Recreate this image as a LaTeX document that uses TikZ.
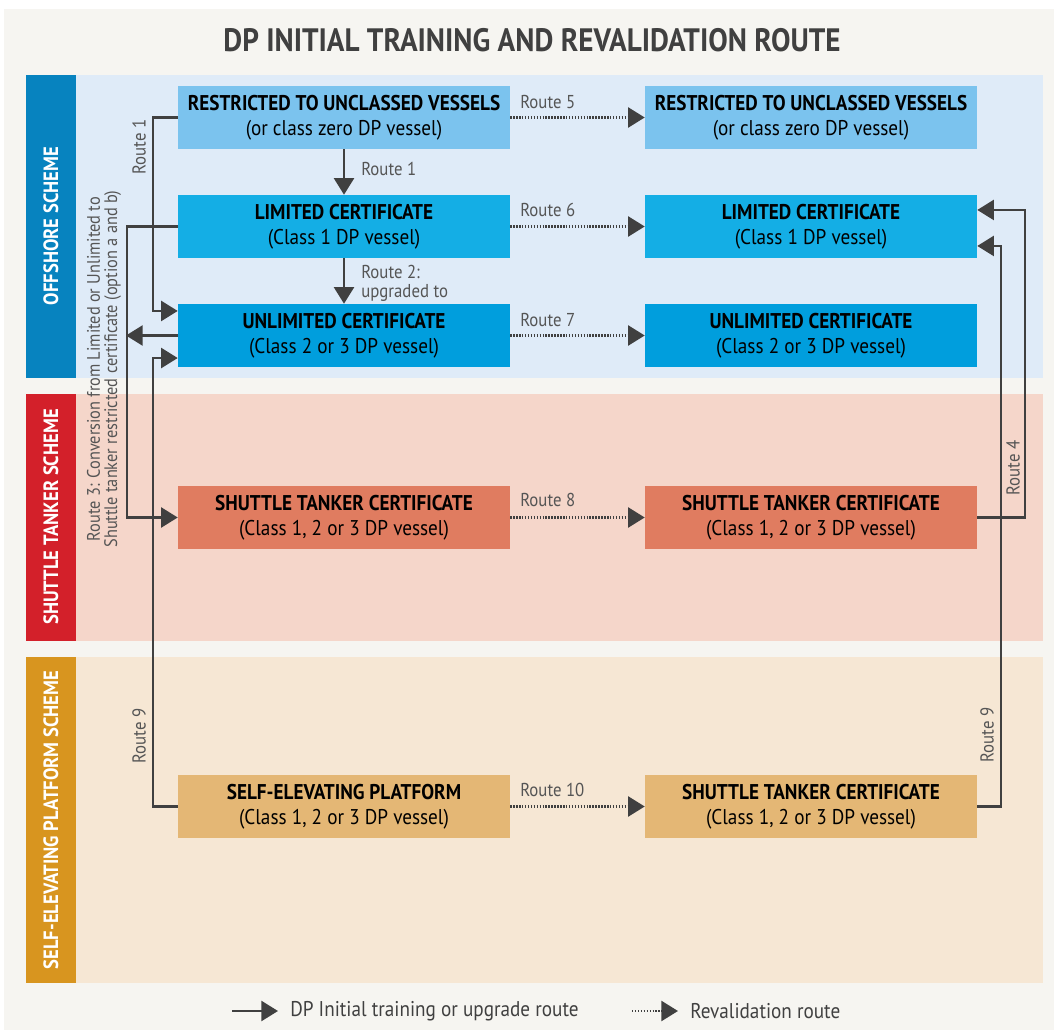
\documentclass[tikz,border=0pt]{standalone}
\usepackage{fontspec}
\setmainfont{PT Sans}[FakeStretch=0.9]
\usetikzlibrary{arrows.meta,calc}
\definecolor{bg}{HTML}{F6F5F1}
\definecolor{offband}{HTML}{DFEBF8}
\definecolor{offbar}{HTML}{0783BF}
\definecolor{stband}{HTML}{F5D6CA}
\definecolor{stbar}{HTML}{D3202A}
\definecolor{seband}{HTML}{F6E7D4}
\definecolor{sebar}{HTML}{D8951F}
\definecolor{cRes}{HTML}{7BC3EE}
\definecolor{cLim}{HTML}{14AEE5}
\definecolor{cUnl}{HTML}{009EDD}
\definecolor{cSt}{HTML}{E07C60}
\definecolor{cSe}{HTML}{E4B775}
\definecolor{ink}{HTML}{404040}
\definecolor{lbl}{HTML}{555555}
\begin{document}
\begin{tikzpicture}[x=0.75pt,y=-0.75pt,
  box/.style={minimum width=249pt,minimum height=47.25pt,inner sep=0pt,align=center,text=black,
    font=\fontsize{16}{18.75}\selectfont},
  route/.style={draw=ink,line width=1.9pt,-{Triangle[length=12.5pt,width=15pt]}},
  reval/.style={route,dash pattern=on 1.1pt off 1.1pt},
  rlabel/.style={text=lbl,inner sep=0pt,font=\fontsize{14}{14.25}\selectfont},
  barlabel/.style={text=white,rotate=90,inner sep=0pt,font=\fontsize{15.5}{17}\selectfont\bfseries},
  legend/.style={text=ink,inner sep=0pt,anchor=west,font=\fontsize{16}{18}\selectfont}]
% canvas
\fill[white] (0,0) rectangle (1054,1030);
\fill[bg] (4,9) rectangle (1054,1030);
% bands
\fill[offband] (26,75) rectangle (1043,378);
\fill[offbar] (26,75) rectangle (76,378);
\fill[stband] (26,394) rectangle (1043,641);
\fill[stbar] (26,394) rectangle (76,641);
\fill[seband] (26,657) rectangle (1043,983);
\fill[sebar] (26,657) rectangle (76,983);
\node[barlabel] (bOff) at (51,226) {OFFSHORE SCHEME};
\node[barlabel] (bSt) at (51,517) {SHUTTLE TANKER SCHEME};
\node[barlabel] (bSe) at (51,820) {SELF-ELEVATING PLATFORM SCHEME};
% title
\node[text=ink,font=\fontsize{24.3}{28}\selectfont\bfseries] (title) at (532,40) {DP INITIAL TRAINING AND REVALIDATION ROUTE};
% boxes
\node[box,fill=cRes] (res1) at (344,117.5) {\textbf{RESTRICTED TO UNCLASSED VESSELS}\\(or class zero DP vessel)};
\node[box,fill=cRes] (res2) at (811,117.5) {\textbf{RESTRICTED TO UNCLASSED VESSELS}\\(or class zero DP vessel)};
\node[box,fill=cLim] (lim1) at (344,226.5) {\textbf{LIMITED CERTIFICATE}\\(Class 1 DP vessel)};
\node[box,fill=cLim] (lim2) at (811,226.5) {\textbf{LIMITED CERTIFICATE}\\(Class 1 DP vessel)};
\node[box,fill=cUnl] (unl1) at (344,335.5) {\textbf{UNLIMITED CERTIFICATE}\\(Class 2 or 3 DP vessel)};
\node[box,fill=cUnl] (unl2) at (811,335.5) {\textbf{UNLIMITED CERTIFICATE}\\(Class 2 or 3 DP vessel)};
\node[box,fill=cSt] (st1) at (344,517.5) {\textbf{SHUTTLE TANKER CERTIFICATE}\\(Class 1, 2 or 3 DP vessel)};
\node[box,fill=cSt] (st2) at (811,517.5) {\textbf{SHUTTLE TANKER CERTIFICATE}\\(Class 1, 2 or 3 DP vessel)};
\node[box,fill=cSe] (se1) at (344,806.5) {\textbf{SELF-ELEVATING PLATFORM}\\(Class 1, 2 or 3 DP vessel)};
\node[box,fill=cSe] (se2) at (811,806.5) {\textbf{SHUTTLE TANKER CERTIFICATE}\\(Class 1, 2 or 3 DP vessel)};
% vertical routes
\draw[route] (res1.south) -- (lim1.north);
\draw[route] (lim1.south) -- (unl1.north);
\node[rlabel,anchor=west] (lr1) at (361,169) {Route 1};
\node[rlabel,anchor=west,align=left] (lr2) at (361,283) {Route 2:\\upgraded to};
% revalidation routes
\draw[reval] (res1.east) -- (res2.west);
\draw[reval] (lim1.east) -- (lim2.west);
\draw[reval] (unl1.east) -- (unl2.west);
\draw[reval] (st1.east) -- (st2.west);
\draw[reval] (se1.east) -- (se2.west);
\node[rlabel,anchor=west] (lr5) at (520,102) {Route 5};
\node[rlabel,anchor=west] (lr6) at (520,210) {Route 6};
\node[rlabel,anchor=west] (lr7) at (520,320) {Route 7};
\node[rlabel,anchor=west] (lr8) at (520,500) {Route 8};
\node[rlabel,anchor=west] (lr10) at (520,790) {Route 10};
% left side routes
\draw[route] (res1.west) -- (153,117.5) |- ([yshift=18.4pt]unl1.west);
\draw[route] (lim1.west) -- (127,226.5) |- (st1.west);
\coordinate (u3end) at (126,335.5);
\draw[route] (unl1.west) -- (u3end);
\draw[route] (se1.west) -- (153,806.5) |- ([yshift=-16.9pt]unl1.west);
\node[rlabel,rotate=90] (lr1b) at (139,147) {Route 1};
\node[rlabel,rotate=90,align=center,font=\fontsize{13.6}{13}\selectfont] (lr3) at (104,369)
  {Route 3: Conversion from Limited or Unlimited to\\Shuttle tanker restricted certificate (option a and b)};
\node[rlabel,rotate=90] (lr9a) at (139,736) {Route 9};
% right side routes
\draw[route] (st2.east) -- (1025,517.5) |- ([yshift=12.4pt]lim2.east);
\draw[route] (se2.east) -- (1001,806.5) |- ([yshift=-14.6pt]lim2.east);
\node[rlabel,rotate=90] (lr4) at (1013,468) {Route 4};
\node[rlabel,rotate=90] (lr9b) at (987,735) {Route 9};
% legend
\coordinate (lgA1) at (232,1011);
\coordinate (lgA2) at (278,1011);
\draw[route] (lgA1) -- (lgA2);
\node[legend] (lgT1) at (290,1011) {DP Initial training or upgrade route};
\coordinate (lgB1) at (632,1011);
\coordinate (lgB2) at (678,1011);
\draw[reval] (lgB1) -- (lgB2);
\node[legend] (lgT2) at (690,1011) {Revalidation route};
\end{tikzpicture}
\end{document}
